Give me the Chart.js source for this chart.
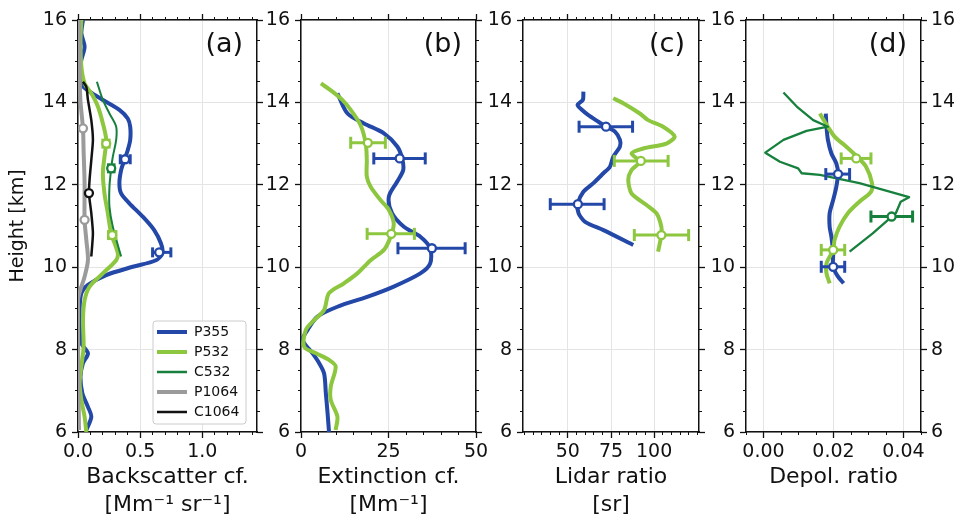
<!DOCTYPE html>
<html>
<head>
<meta charset="utf-8">
<script src="https://cdn.jsdelivr.net/npm/chart.js@4.4.1/dist/chart.umd.min.js"></script>
<style>
  html, body { margin: 0; background: #fff; }
  #wrap { position: relative; width: 959px; height: 517px; }
  #wrap canvas { position: absolute; left: 0; top: 0; }
</style>
</head>
<body>
<div id="wrap">
  <canvas id="pa" width="959" height="517"></canvas>
  <canvas id="pb" width="959" height="517"></canvas>
  <canvas id="pc" width="959" height="517"></canvas>
  <canvas id="pd" width="959" height="517"></canvas>
</div>
<script>
// ---- values (height in km) ----
const heightTicks = [6, 8, 10, 12, 14, 16];
const bscTicks = [0, 0.5, 1.0];
const extTicks = [0, 25, 50];
const lrTicks = [50, 75, 100];
const dpTicks = [0, 0.02, 0.04];

const seriesNames = ['P355', 'P532', 'C532', 'P1064', 'C1064'];

// (a) backscatter coefficient
const bscP355H = [16.0, 15.68, 15.35, 15.03, 14.71, 14.46, 14.26, 14.06, 13.82, 13.61, 13.41, 13.09, 12.84, 12.6, 12.36, 12.04, 11.79, 11.55, 11.23, 10.9, 10.58, 10.34, 10.17, 10.01, 9.81, 9.57, 9.37, 8.96, 8.48, 8.15, 7.91, 7.67, 7.34, 6.94, 6.61, 6.37, 6.05];
const bscP355 = [0.04, 0.027, 0.053, 0.027, 0.013, 0.02, 0.093, 0.2, 0.333, 0.4, 0.42, 0.42, 0.4, 0.373, 0.347, 0.333, 0.347, 0.413, 0.52, 0.613, 0.667, 0.68, 0.627, 0.44, 0.227, 0.08, 0.027, 0.013, 0.02, 0.027, 0.08, 0.04, 0.02, 0.035, 0.08, 0.107, 0.067];
const bscP532H = [16.0, 15.51, 14.87, 14.46, 14.22, 13.9, 13.49, 13.09, 12.68, 12.28, 11.79, 11.31, 10.82, 10.34, 10.17, 9.85, 9.53, 9.2, 8.72, 8.07, 7.59, 7.18, 6.78, 6.37, 6.0];
const bscP532 = [0.027, 0.02, 0.027, 0.053, 0.107, 0.16, 0.2, 0.227, 0.213, 0.2, 0.213, 0.24, 0.267, 0.32, 0.307, 0.2, 0.093, 0.053, 0.04, 0.045, 0.027, 0.013, 0.027, 0.053, 0.067];
const bscC532H = [14.5, 14.06, 13.73, 13.41, 13.09, 12.68, 12.4, 11.95, 11.47, 10.98, 10.26];
const bscC532 = [0.152, 0.2, 0.253, 0.307, 0.307, 0.28, 0.267, 0.253, 0.253, 0.28, 0.347];
const bscP1064H = [16.0, 14.87, 14.06, 13.37, 12.84, 12.04, 11.15, 10.66, 10.17, 9.77, 9.45, 9.2, 8.4, 6.05];
const bscP1064 = [0.008, 0.013, 0.019, 0.04, 0.045, 0.053, 0.053, 0.067, 0.08, 0.053, 0.019, 0.0, 0.0, 0.008];
const bscC1064H = [14.5, 14.38, 14.06, 13.57, 13.09, 12.6, 12.12, 11.79, 11.31, 10.82, 10.26];
const bscC1064 = [0.04, 0.067, 0.08, 0.107, 0.12, 0.107, 0.093, 0.088, 0.107, 0.12, 0.107];

const bscP355PtH = [12.62, 10.36], bscP355Pt = [0.379, 0.653], bscP355Lo = [0.34, 0.6], bscP355Hi = [0.42, 0.747];
const bscP532PtH = [13.0, 10.78], bscP532Pt = [0.227, 0.275], bscP532Lo = [0.2, 0.245], bscP532Hi = [0.25, 0.305];
const bscC532PtH = [12.4], bscC532Pt = [0.267], bscC532Lo = [0.245], bscC532Hi = [0.29];
const bscP1064PtH = [13.37, 11.15], bscP1064Pt = [0.04, 0.053];
const bscC1064PtH = [11.8], bscC1064Pt = [0.088];

// (b) extinction coefficient
const extP355H = [14.22, 13.73, 13.49, 13.25, 12.93, 12.64, 12.36, 12.08, 11.71, 11.31, 10.98, 10.74, 10.46, 10.09, 9.85, 9.53, 9.28, 9.04, 8.8, 8.48, 8.23, 7.91, 7.67, 7.42, 6.94, 6.45, 6.0];
const extP355 = [10.4, 13.3, 18.0, 23.7, 27.5, 28.9, 29.2, 27.5, 25.1, 26.0, 29.4, 34.1, 36.9, 36.9, 34.1, 26.5, 18.9, 10.4, 4.7, 1.9, 0.5, 3.3, 5.2, 6.6, 7.1, 7.6, 8.0];
const extP532H = [14.46, 14.26, 14.06, 13.82, 13.45, 13.0, 12.6, 12.2, 11.95, 11.63, 11.39, 11.06, 10.74, 10.42, 10.17, 9.85, 9.61, 9.37, 8.96, 8.72, 8.48, 8.07, 7.91, 7.75, 7.59, 7.1, 6.78, 6.37, 6.05];
const extP532 = [5.7, 9.0, 11.8, 14.2, 17.0, 18.5, 18.8, 18.8, 19.9, 22.7, 25.1, 26.5, 25.6, 23.7, 19.9, 16.1, 12.3, 8.0, 6.6, 3.8, 1.4, 0.9, 4.3, 8.0, 9.9, 8.5, 8.5, 10.4, 9.9];
const extP355PtH = [12.64, 10.46], extP355Pt = [28.2, 37.4], extP355Lo = [20.8, 27.7], extP355Hi = [35.5, 46.9];
const extP532PtH = [13.02, 10.81], extP532Pt = [19.1, 25.8], extP532Lo = [14.2, 18.9], extP532Hi = [24.1, 32.4];

// (c) lidar ratio
const lrP355H = [14.26, 14.06, 13.94, 13.82, 13.69, 13.53, 13.41, 13.29, 13.09, 12.93, 12.68, 12.44, 12.28, 12.04, 11.83, 11.55, 11.31, 11.1, 10.9, 10.54];
const lrP355 = [59.0, 58.7, 55.6, 58.1, 61.9, 67.7, 72.1, 77.3, 80.2, 80.2, 76.3, 74.4, 70.6, 64.8, 59.0, 55.8, 56.2, 60.0, 70.6, 87.9];
const lrP532H = [14.1, 13.98, 13.73, 13.57, 13.41, 13.17, 13.0, 12.88, 12.76, 12.56, 12.36, 12.12, 11.79, 11.51, 11.31, 10.98, 10.78, 10.38];
const lrP532 = [76.3, 82.1, 91.7, 96.5, 105.2, 111.9, 107.1, 93.7, 86.9, 91.7, 86.9, 85.0, 86.9, 95.6, 101.3, 104.2, 104.2, 102.3];
const lrP355PtH = [13.41, 11.53], lrP355Pt = [72.1, 55.8], lrP355Lo = [56.5, 39.8], lrP355Hi = [87.5, 71.0];
const lrP532PtH = [12.58, 10.78], lrP532Pt = [92.3, 104.2], lrP532Lo = [76.9, 88.5], lrP532Hi = [108.1, 120.0];

// (d) depolarization ratio
const dpP355H = [13.73, 13.41, 13.09, 12.76, 12.52, 12.28, 11.95, 11.63, 11.31, 10.98, 10.74, 10.34, 10.01, 9.77, 9.61];
const dpP355 = [0.0178, 0.018, 0.0184, 0.0194, 0.0208, 0.0213, 0.0208, 0.0199, 0.0189, 0.0189, 0.0194, 0.0199, 0.0199, 0.0213, 0.0229];
const dpP532H = [13.73, 13.41, 13.17, 12.93, 12.7, 12.44, 12.04, 11.83, 11.59, 11.31, 10.98, 10.66, 10.42, 10.09, 9.85, 9.61];
const dpP532 = [0.0161, 0.0184, 0.0203, 0.0236, 0.0265, 0.0293, 0.031, 0.0307, 0.0274, 0.0241, 0.0217, 0.0203, 0.0199, 0.018, 0.018, 0.0189];
const dpC532H = [14.24, 13.9, 13.57, 13.41, 13.31, 13.09, 12.78, 12.56, 12.4, 12.28, 12.24, 12.04, 11.7, 11.59, 11.31, 10.82, 10.38];
const dpC532 = [0.0057, 0.0095, 0.0142, 0.0184, 0.0123, 0.0057, 0.0005, 0.0047, 0.0099, 0.0109, 0.0161, 0.0274, 0.0416, 0.0392, 0.0378, 0.0312, 0.0246];
const dpP355PtH = [12.26, 10.01], dpP355Pt = [0.0213, 0.0199], dpP355Lo = [0.0178, 0.0165], dpP355Hi = [0.0246, 0.0232];
const dpP532PtH = [12.64, 10.42], dpP532Pt = [0.0265, 0.0199], dpP532Lo = [0.0222, 0.0165], dpP532Hi = [0.0307, 0.0232];
const dpC532PtH = [11.23], dpC532Pt = [0.0366], dpC532Lo = [0.0307], dpC532Hi = [0.0426];

// ---- styling ----
const FONT = 'DejaVu Sans';
const INK = '#111111';
const GRID = '#e4e4e4';
const COLORS = { P355: '#2348a8', P532: '#8dc63f', C532: '#17803d', P1064: '#9b9b9b', C1064: '#121212' };
const WIDTHS = { P355: 4, P532: 4, C532: 2, P1064: 4, C1064: 2.5 };
const W = 959, H = 517, TOP = 20, BOT = 432;

Chart.defaults.font.family = FONT;
Chart.defaults.color = INK;

function pts(h, v) {
  return h.map((y, i) => ({ x: v[i], y }));
}

function profile(name, h, v, tension = 0.3, width = WIDTHS[name]) {
  return {
    data: pts(h, v), borderColor: COLORS[name], backgroundColor: COLORS[name],
    borderWidth: width, pointRadius: 0, tension, borderJoinStyle: 'round',
    order: 10 - seriesNames.indexOf(name)
  };
}

function errorBars(name, h, lo, hi, cap = 6) {
  return h.map((y, i) => ({
    data: [{ x: lo[i], y }, { x: hi[i], y }],
    borderColor: COLORS[name], borderWidth: 3, tension: 0,
    pointStyle: 'line', pointRotation: 90, pointRadius: cap,
    pointBorderWidth: 3, pointBorderColor: COLORS[name], order: 1
  }));
}

function markers(name, h, v) {
  return {
    data: pts(h, v), showLine: false, pointRadius: 4, pointBorderWidth: 2.3,
    pointBorderColor: COLORS[name], pointBackgroundColor: '#fff', order: 0
  };
}

function fixedTicks(list) {
  return s => { s.ticks = list.map(value => ({ value })); };
}

// tick-mark-only axis (no labels, no size in the layout)
function marks(position, min, max, step, len, weight, fixed, spine) {
  return {
    type: 'linear', position, min, max, weight,
    afterBuildTicks: fixed ? fixedTicks(fixed) : undefined,
    ticks: { display: false, stepSize: step, maxTicksLimit: 1000, includeBounds: false },
    grid: { drawOnChartArea: false, tickLength: len, tickWidth: len > 4 ? 1.3 : 1, tickColor: INK },
    border: { display: !!spine, color: INK, width: 1.5 },
    afterFit: s => { if (s.isHorizontal()) s.height = 0; else s.width = 0; }
  };
}

const panelTag = {
  id: 'panelTag',
  afterDraw(chart, args, opts) {
    const { ctx, chartArea: a } = chart;
    ctx.save();
    ctx.font = '27px ' + FONT;
    ctx.fillStyle = INK;
    ctx.textAlign = 'right';
    ctx.textBaseline = 'alphabetic';
    ctx.fillText(opts.text, a.right - 14, a.top + 32);
    ctx.restore();
  }
};

// moves the legend into the lower right corner and gives it a frame
const legendFrame = {
  id: 'legendFrame',
  afterLayout(chart) {
    const lg = chart.legend;
    if (!lg || !lg.options.display) return;
    const a = chart.chartArea;
    lg.left = a.right - 106;
    lg.right = lg.left + lg.width;
    lg.top = a.top;
    lg.bottom = a.bottom - 7;
    if (lg.framed) return;
    lg.framed = true;
    const base = lg.draw.bind(lg);
    lg.draw = function () {
      const boxes = this.legendHitBoxes;
      if (boxes && boxes.length) {
        const ctx = this.ctx, ca = this.chart.chartArea;
        const first = boxes[0], last = boxes[boxes.length - 1];
        const x0 = first.left - 4, y0 = first.top - 4;
        const x1 = ca.right - 11, y1 = last.top + last.height + 5;
        ctx.save();
        ctx.beginPath();
        if (ctx.roundRect) ctx.roundRect(x0, y0, x1 - x0, y1 - y0, 3);
        else ctx.rect(x0, y0, x1 - x0, y1 - y0);
        ctx.fillStyle = 'rgba(255,255,255,0.9)';
        ctx.fill();
        ctx.strokeStyle = '#cccccc';
        ctx.lineWidth = 1;
        ctx.stroke();
        ctx.restore();
      }
      base();
    };
  }
};

function panel(id, cfg) {
  const tickFont = { family: FONT, size: 19 };
  const scales = {
    x: {
      type: 'linear', position: 'bottom', weight: 1, min: cfg.xMin, max: cfg.xMax,
      afterBuildTicks: fixedTicks(cfg.xTicks),
      ticks: { font: tickFont, color: INK, padding: 3, maxRotation: 0, autoSkip: false,
        callback: v => v.toFixed(cfg.digits) },
      grid: { color: GRID, lineWidth: 1, tickLength: 6, tickWidth: 1.3, tickColor: INK },
      border: { color: INK, width: 1.5 },
      title: { display: true, text: cfg.xTitle, color: INK,
        font: { family: FONT, size: 22, lineHeight: 1.27 }, padding: { top: 0, bottom: cfg.titlePad } },
      afterFit: s => { s.height = H - BOT; }
    },
    y: {
      type: 'linear', position: 'left', weight: 1, min: 6, max: 16,
      afterBuildTicks: fixedTicks(heightTicks),
      ticks: { font: tickFont, color: INK, padding: 5, autoSkip: false },
      grid: { color: GRID, lineWidth: 1, tickLength: 6, tickWidth: 1.3, tickColor: INK },
      border: { color: INK, width: 1.5 },
      title: { display: !!cfg.yTitle, text: cfg.yTitle || '', color: INK,
        font: { family: FONT, size: 19 }, padding: { top: 7, bottom: 0 } },
      afterFit: s => { s.width = cfg.left; }
    },
    xMinor: marks('bottom', cfg.xMin, cfg.xMax, cfg.xMinor, 3, 0),
    xTop: marks('top', cfg.xMin, cfg.xMax, null, 6, 1, cfg.xTicks, true),
    xTopMinor: marks('top', cfg.xMin, cfg.xMax, cfg.xMinor, 3, 0),
    yMinor: marks('left', 6, 16, 0.5, 3, 0),
    yRight: cfg.rightLabels ? {
      type: 'linear', position: 'right', weight: 1, min: 6, max: 16,
      afterBuildTicks: fixedTicks(heightTicks),
      ticks: { font: tickFont, color: INK, padding: 4, autoSkip: false },
      grid: { drawOnChartArea: false, tickLength: 6, tickWidth: 1.3, tickColor: INK },
      border: { color: INK, width: 1.5 },
      afterFit: s => { s.width = W - cfg.right; }
    } : marks('right', 6, 16, null, 6, 1, heightTicks, true),
    yRightMinor: marks('right', 6, 16, 0.5, 3, 0)
  };

  return new Chart(document.getElementById(id), {
    type: 'line',
    data: { datasets: cfg.datasets },
    options: {
      responsive: false, animation: false, devicePixelRatio: 1, events: [],
      layout: { padding: { left: 0, top: TOP, right: cfg.rightLabels ? 0 : W - cfg.right, bottom: 0 } },
      scales,
      plugins: {
        legend: cfg.legend || { display: false },
        tooltip: { enabled: false },
        panelTag: { text: cfg.tag }
      }
    },
    plugins: [panelTag, legendFrame]
  });
}

panel('pa', {
  tag: '(a)', left: 78, right: 257, xMin: 0, xMax: 1.44, xTicks: bscTicks, xMinor: 0.1, digits: 1,
  xTitle: ['Backscatter cf.', '[Mm\u207B\u00B9 sr\u207B\u00B9]'], titlePad: -2, yTitle: 'Height [km]',
  datasets: [
    profile('P355', bscP355H, bscP355),
    profile('P532', bscP532H, bscP532),
    profile('C532', bscC532H, bscC532),
    profile('P1064', bscP1064H, bscP1064),
    profile('C1064', bscC1064H, bscC1064, 0.2),
    ...errorBars('P355', bscP355PtH, bscP355Lo, bscP355Hi, 5),
    ...errorBars('P532', bscP532PtH, bscP532Lo, bscP532Hi, 5),
    ...errorBars('C532', bscC532PtH, bscC532Lo, bscC532Hi, 5),
    markers('P355', bscP355PtH, bscP355Pt),
    markers('P532', bscP532PtH, bscP532Pt),
    markers('C532', bscC532PtH, bscC532Pt),
    markers('P1064', bscP1064PtH, bscP1064Pt),
    markers('C1064', bscC1064PtH, bscC1064Pt)
  ],
  legend: {
    display: true, position: 'chartArea', align: 'end',
    labels: {
      color: INK, font: { family: FONT, size: 14 }, padding: 6, boxHeight: 14,
      usePointStyle: true, pointStyle: 'line', pointStyleWidth: 30,
      generateLabels: () => seriesNames.map((name, i) => ({
        text: name, datasetIndex: i, strokeStyle: COLORS[name], fillStyle: COLORS[name],
        lineWidth: WIDTHS[name] === 2 ? 2.5 : WIDTHS[name], pointStyle: 'line', fontColor: INK, hidden: false
      }))
    }
  }
});

panel('pb', {
  tag: '(b)', left: 301, right: 476, xMin: 0, xMax: 50, xTicks: extTicks, xMinor: 5, digits: 0,
  xTitle: ['Extinction cf.', '[Mm\u207B\u00B9]'], titlePad: -2,
  datasets: [
    profile('P355', extP355H, extP355),
    profile('P532', extP532H, extP532),
    ...errorBars('P355', extP355PtH, extP355Lo, extP355Hi),
    ...errorBars('P532', extP532PtH, extP532Lo, extP532Hi),
    markers('P355', extP355PtH, extP355Pt),
    markers('P532', extP532PtH, extP532Pt)
  ]
});

panel('pc', {
  tag: '(c)', left: 523, right: 699, xMin: 24, xMax: 126, xTicks: lrTicks, xMinor: 5, digits: 0,
  xTitle: ['Lidar ratio', '[sr]'], titlePad: -2,
  datasets: [
    profile('P355', lrP355H, lrP355, 0.25),
    profile('P532', lrP532H, lrP532, 0.25),
    ...errorBars('P355', lrP355PtH, lrP355Lo, lrP355Hi),
    ...errorBars('P532', lrP532PtH, lrP532Lo, lrP532Hi),
    markers('P355', lrP355PtH, lrP355Pt),
    markers('P532', lrP532PtH, lrP532Pt)
  ]
});

panel('pd', {
  tag: '(d)', left: 746, right: 921, xMin: -0.005, xMax: 0.045, xTicks: dpTicks, xMinor: 0.005, digits: 2,
  xTitle: 'Depol. ratio', titlePad: 26, rightLabels: true,
  datasets: [
    profile('P355', dpP355H, dpP355, 0.3),
    profile('P532', dpP532H, dpP532, 0.3),
    profile('C532', dpC532H, dpC532, 0, 2.3),
    ...errorBars('P355', dpP355PtH, dpP355Lo, dpP355Hi),
    ...errorBars('P532', dpP532PtH, dpP532Lo, dpP532Hi),
    ...errorBars('C532', dpC532PtH, dpC532Lo, dpC532Hi),
    markers('P355', dpP355PtH, dpP355Pt),
    markers('P532', dpP532PtH, dpP532Pt),
    markers('C532', dpC532PtH, dpC532Pt)
  ]
});
</script>
</body>
</html>
